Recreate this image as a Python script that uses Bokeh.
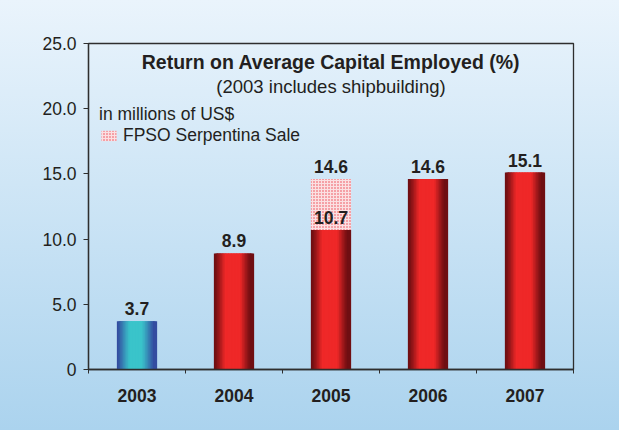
import numpy as np
from bokeh.plotting import figure
from bokeh.core.properties import value
from bokeh.models import (ColumnDataSource, Range1d, FixedTicker, LabelSet, Label,
                          Legend, LegendItem)
from bokeh.embed import file_html
from bokeh.resources import INLINE

# ---------------- data ----------------
years = ["2003", "2004", "2005", "2006", "2007"]
roace = [3.7, 8.9, 10.7, 14.6, 15.1]             # ROACE (%), 2005 excluding sale
roace_with_sale = [3.7, 8.9, 14.6, 14.6, 15.1]   # including FPSO Serpentina sale
y_ticks = [0, 5, 10, 15, 20, 25]
y_tick_labels = ["0", "5.0", "10.0", "15.0", "20.0", "25.0"]
title_text = "Return on Average Capital Employed (%)"
subtitle_text = "(2003 includes shipbuilding)"
units_text = "in millions of US$"
sale_text = "FPSO Serpentina Sale"

FONT = "Liberation Sans"
TXT = "#231f20"
AX = "#2e2e2e"

# ---------------- geometry / style ----------------
centers = [i + 0.5 for i in range(len(years))]
BAR_W = 0.415
N = 24
stripe_w = 2.5 * BAR_W / N
t = (np.arange(N) + 0.5) / N
offs = -BAR_W / 2 + stripe_w / 2 + np.arange(N) * (BAR_W - stripe_w) / (N - 1)


def mix(c0, c1, w):
    return "#%02x%02x%02x" % tuple(int(round(a + (b - a) * w)) for a, b in zip(c0, c1))


schemes = {
    "blue": ((50, 66, 156), (58, 196, 202), 1.12, 1.3),
    "red": ((104, 13, 17), (239, 40, 40), 1.2, 1.6),
}
bar_scheme = ["blue", "red", "red", "red", "red"]

sx, stop, scol = [], [], []
for c, v, sch in zip(centers, roace, bar_scheme):
    dark, bright, k, g = schemes[sch]
    w = np.clip(k * np.sin(np.pi * (t * 0.96 + 0.02)), 0, 1) ** g
    for o, wi in zip(offs, w):
        sx.append(c + o)
        stop.append(v)
        scol.append(mix(dark, bright, wi))
stripes = ColumnDataSource(dict(x=sx, top=stop, color=scol))

sale_idx = [i for i in range(len(years)) if roace_with_sale[i] > roace[i]]
sale_src = ColumnDataSource(dict(
    x=[centers[i] for i in sale_idx],
    bottom=[roace[i] for i in sale_idx],
    top=[roace_with_sale[i] for i in sale_idx],
    label=["%.1f" % roace_with_sale[i] for i in sale_idx],
))
lab_src = ColumnDataSource(dict(x=centers, y=roace, label=["%.1f" % v for v in roace]))

# ---------------- figure ----------------
p = figure(width=619, height=430, x_range=Range1d(0, 5), y_range=Range1d(0, 25),
           output_backend="svg", toolbar_location=None,
           min_border_left=88, min_border_right=46, min_border_top=43, min_border_bottom=61)
p.background_fill_alpha = 0
p.border_fill_alpha = 0
p.styles = {"background": "linear-gradient(180deg, #eaf4fc 0%, #abd3ee 100%)"}
p.outline_line_color = AX
p.outline_line_width = 1.3
p.xgrid.visible = False
p.ygrid.visible = False

p.vbar(x="x", top="top", bottom=0, width=stripe_w, source=stripes,
       fill_color="color", line_color=None)
sale_r = p.vbar(x="x", bottom="bottom", top="top", width=BAR_W, source=sale_src,
                fill_color="#fbe0e2", line_color=None, hatch_pattern="dot",
                hatch_color="#ea404b", hatch_scale=3.0, hatch_weight=2.0)

for src, yfield in ((lab_src, "y"), (sale_src, "top")):
    p.add_layout(LabelSet(x="x", y=yfield, text="label", source=src,
                          text_align="center", text_baseline="alphabetic", y_offset=6,
                          text_font=value(FONT), text_font_size=value("17.5px"),
                          text_font_style="bold", text_color=TXT))

p.add_layout(Label(x=2.5, y=23.6, text=title_text, text_align="center",
                   text_baseline="middle", text_font=FONT, text_font_size="19.5px",
                   text_font_style="bold", text_color=TXT))
p.add_layout(Label(x=2.5, y=21.68, text=subtitle_text, text_align="center",
                   text_baseline="middle", text_font=FONT, text_font_size="18.5px",
                   text_color=TXT))

legend = Legend(items=[LegendItem(label=sale_text, renderers=[sale_r])],
                title=units_text, location=(11, 223))
legend.title_text_font = FONT
legend.title_text_font_size = "17.5px"
legend.title_text_font_style = "normal"
legend.title_text_color = TXT
legend.label_text_font = FONT
legend.label_text_font_size = "17.5px"
legend.label_text_color = TXT
legend.background_fill_alpha = 0
legend.border_line_color = None
legend.padding = 0
legend.margin = 0
legend.spacing = 0
legend.glyph_width = 19
legend.glyph_height = 13
legend.label_height = 18
legend.label_standoff = 5
legend.title_standoff = 0
p.add_layout(legend)

# axes
xa = p.xaxis[0]
xa.ticker = FixedTicker(ticks=centers, minor_ticks=list(range(len(years) + 1)))
xa.major_label_overrides = {c: y for c, y in zip(centers, years)}
xa.major_tick_out = 0
xa.major_tick_in = 0
xa.minor_tick_out = 4
xa.minor_tick_in = 0
xa.minor_tick_line_color = AX
xa.axis_line_color = AX
xa.axis_line_width = 1.3
xa.major_label_standoff = 15
xa.major_label_text_font = FONT
xa.major_label_text_font_size = "17.5px"
xa.major_label_text_font_style = "bold"
xa.major_label_text_color = TXT

ya = p.yaxis[0]
ya.ticker = FixedTicker(ticks=y_ticks, minor_ticks=[])
ya.major_label_overrides = {v: s for v, s in zip(y_ticks, y_tick_labels)}
ya.major_tick_out = 5
ya.major_tick_in = 0
ya.major_tick_line_color = AX
ya.minor_tick_line_color = None
ya.axis_line_color = AX
ya.axis_line_width = 1.3
ya.major_label_standoff = 7
ya.major_label_text_font = FONT
ya.major_label_text_font_size = "17.5px"
ya.major_label_text_color = TXT

open("out.html", "w").write(file_html(p, INLINE))
